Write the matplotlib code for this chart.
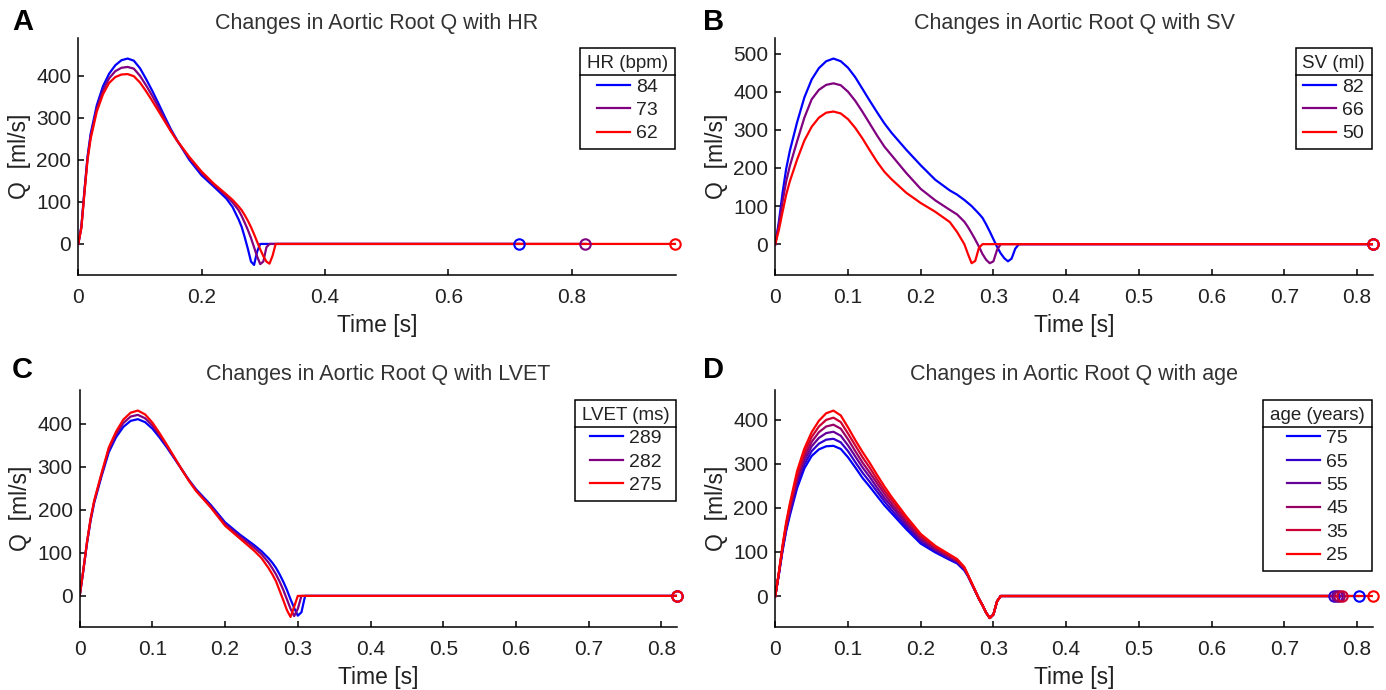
import matplotlib
matplotlib.use("Agg")
import matplotlib.pyplot as plt
from matplotlib.lines import Line2D
from matplotlib.ticker import FuncFormatter

plt.rcParams["font.family"] = ["Liberation Sans", "DejaVu Sans"]

# time grid (s) for the ejection part, shared by panels A, C, D
t_main = [0, .005, .01, .015, .02, .03, .04, .05, .06, .07, .08, .09, .10, .11, .12, .13,
          .14, .15, .16, .18, .20, .22, .24, .25, .26, .265, .27, .275, .28, .285, .29,
          .295, .30, .305, .31, .315, .32]
# panel B runs a little longer
t_sv = t_main + [.325, .33, .335]

# A: heart rate
hr_labels = ["84", "73", "62"]
hr_periods = [0.714, 0.822, 0.968]
q_hr84 = [0, 42, 128, 208, 262, 330, 375, 405, 425, 437, 441, 436, 418, 392, 364, 334, 303, 273,
          247, 200, 163, 136, 108, 88, 58, 40, 15, -12, -42, -50, -18, 0, 0, 0, 0, 0, 0]
q_hr73 = [0, 40, 125, 204, 256, 322, 365, 394, 411, 419, 421, 417, 400, 377, 352, 325, 297, 270,
          246, 204, 168, 140, 114, 99, 80, 66, 50, 33, 14, -8, -30, -48, -42, -8, 0, 0, 0]
q_hr62 = [0, 38, 122, 200, 250, 315, 356, 383, 397, 403, 404, 399, 384, 363, 340, 316, 292, 268,
          246, 207, 172, 143, 118, 105, 89, 80, 68, 55, 40, 23, 5, -13, -29, -42, -47, -28, 0]

# B: stroke volume
sv_labels = ["82", "66", "50"]
sv_periods = [0.822, 0.822, 0.822]
q_sv82 = [0, 60, 135, 198, 245, 320, 385, 432, 462, 480, 487, 480, 463, 438, 407, 376, 346, 317,
          292, 248, 207, 169, 141, 130, 116, 108, 100, 90, 80, 69, 52, 33, 13, -7, -24, -37, -45,
          -38, -12, 0]
q_sv66 = [0, 52, 112, 165, 205, 270, 332, 380, 405, 418, 422, 417, 400, 376, 347, 316, 285, 256,
          233, 187, 145, 115, 90, 78, 59, 45, 29, 12, -6, -26, -41, -50, -45, -15, 0, 0, 0, 0, 0, 0]
q_sv50 = [0, 38, 85, 130, 165, 222, 272, 308, 332, 345, 348, 343, 328, 305, 277, 246, 216, 190,
          170, 135, 108, 85, 58, 32, 0, -26, -50, -44, -10, 0, 0, 0, 0, 0, 0, 0, 0, 0, 0, 0]

# C: LVET
lvet_labels = ["289", "282", "275"]
lvet_periods = [0.822, 0.822, 0.822]
q_lvet289 = [0, 59, 122, 175, 217, 278, 334, 369, 393, 407, 411, 404, 389, 368, 345, 320, 295, 270,
             248, 212, 171, 143, 118, 104, 87, 77, 65, 50, 33, 14, -8, -28, -46, -38, 0, 0, 0]
q_lvet282 = [0, 60, 124, 178, 220, 282, 340, 376, 402, 417, 421, 413, 396, 373, 348, 322, 295, 269,
             246, 209, 167, 139, 112, 97, 77, 64, 50, 33, 14, -8, -30, -47, -30, 0, 0, 0, 0]
q_lvet275 = [0, 60, 125, 180, 222, 285, 345, 382, 410, 426, 431, 422, 403, 378, 351, 323, 295, 268,
             244, 206, 163, 134, 105, 88, 64, 50, 34, 12, -10, -33, -49, -25, 0, 0, 0, 0, 0]

# D: age
age_labels = ["75", "65", "55", "45", "35", "25"]
age_periods = [0.803, 0.768, 0.772, 0.776, 0.780, 0.822]
q_age75 = [0, 50, 103, 148, 183, 245, 290, 318, 333, 340, 341, 334, 315, 292, 268, 248, 227, 206,
           188, 152, 119, 99, 82, 74, 58, 45, 28, 11, -6, -21, -38, -50, -42, -12, 0, 0, 0]
q_age65 = [0, 51, 105, 152, 188, 253, 299, 329, 346, 355, 357, 349, 329, 304, 280, 259, 237, 215,
           195, 158, 123, 102, 84, 76, 60, 46, 28, 11, -6, -21, -38, -50, -42, -12, 0, 0, 0]
q_age55 = [0, 52, 108, 156, 194, 261, 308, 340, 359, 370, 373, 364, 342, 317, 292, 270, 246, 223,
           203, 164, 128, 105, 87, 78, 61, 46, 29, 11, -6, -21, -38, -50, -42, -12, 0, 0, 0]
q_age45 = [0, 53, 110, 160, 199, 268, 317, 350, 372, 385, 389, 380, 356, 329, 303, 280, 256, 232,
           210, 169, 132, 108, 89, 80, 63, 47, 29, 12, -6, -21, -38, -50, -42, -12, 0, 0, 0]
q_age35 = [0, 54, 113, 164, 205, 276, 326, 361, 385, 400, 405, 395, 369, 342, 315, 291, 265, 240,
           218, 175, 137, 111, 92, 82, 64, 47, 30, 12, -6, -21, -38, -50, -42, -12, 0, 0, 0]
q_age25 = [0, 55, 115, 168, 210, 284, 335, 372, 398, 415, 421, 410, 383, 354, 327, 302, 275, 249,
           225, 181, 141, 114, 94, 84, 66, 48, 30, 12, -6, -21, -38, -50, -42, -12, 0, 0, 0]

three_cols = [(0, 0, 1), (0.5, 0, 0.5), (1, 0, 0)]
six_cols = [(k / 5, 0, 1 - k / 5) for k in range(6)]

W, H = 1386, 690
fig = plt.figure(figsize=(W / 100, H / 100), dpi=100)
TXT = "#222222"
legends = []


def panel(rect, letter, letter_xy, t, curves, labels, periods, colors, title, leg_title,
          xmax, xticks, ylim, yticks):
    ax = fig.add_axes(rect)
    handles = []
    for q, p, c in zip(curves, periods, colors):
        ln, = ax.plot(list(t) + [p], list(q) + [0], color=c, lw=1.6, solid_joinstyle="round")
        handles.append(ln)
    for p, c in zip(periods, colors):
        ax.plot([p], [0], "o", mfc="none", mec=c, ms=7.5, mew=1.5, clip_on=False, zorder=5)

    ax.set_xlim(0, xmax)
    ax.set_ylim(*ylim)
    ax.set_xticks(xticks)
    ax.set_yticks(yticks)
    ax.xaxis.set_major_formatter(FuncFormatter(lambda v, pos: "%g" % v))
    for s in ["top", "right"]:
        ax.spines[s].set_visible(False)
    for s in ["left", "bottom"]:
        ax.spines[s].set_linewidth(1.1)
    ax.tick_params(direction="in", length=4.5, width=1.1, labelsize=15, colors="black",
                   labelcolor=TXT)
    ax.tick_params(axis="x", pad=9)
    ax.tick_params(axis="y", pad=5)

    ax.set_title(title, fontsize=15.5, color="#333333", pad=7)
    ax.set_xlabel("Time [s]", fontsize=16.5, color=TXT)
    ax.xaxis.set_label_coords(0.5, -0.165)
    ax.set_ylabel("Q  [ml/s]", fontsize=16.5, color=TXT)
    ax.yaxis.label.set_va("center")
    ax.yaxis.set_label_coords(-0.099, 0.5)

    leg = ax.legend(handles, labels, title=leg_title, loc="upper right",
                    bbox_to_anchor=(0.998, 0.958), fontsize=14, title_fontsize=13.5,
                    frameon=True, fancybox=False, framealpha=1, edgecolor="black",
                    handlelength=1.7, handletextpad=0.3, borderpad=0.35, labelspacing=0.3,
                    borderaxespad=0)
    leg.get_frame().set_linewidth(1.1)
    for txt in leg.get_texts():
        txt.set_color(TXT)
    leg.get_title().set_color(TXT)
    legends.append(leg)

    fig.text(letter_xy[0] / W, 1 - letter_xy[1] / H, letter, fontsize=21, fontweight="bold",
             va="top", ha="left", color="black")
    return ax


panel([78.3 / W, 0.6014, 0.4312, 0.343], "A", (12, 8), t_main,
      [q_hr84, q_hr73, q_hr62], hr_labels, hr_periods, three_cols,
      "Changes in Aortic Root Q with HR", "HR (bpm)",
      0.969, [0, 0.2, 0.4, 0.6, 0.8], (-74, 489), [0, 100, 200, 300, 400])

panel([775.3 / W, 0.6014, 0.4312, 0.343], "B", (703, 8), t_sv,
      [q_sv82, q_sv66, q_sv50], sv_labels, sv_periods, three_cols,
      "Changes in Aortic Root Q with SV", "SV (ml)",
      0.822, [0, .1, .2, .3, .4, .5, .6, .7, .8], (-81, 540), [0, 100, 200, 300, 400, 500])

panel([79.7 / W, 0.0909, 0.4312, 0.344], "C", (12, 356), t_main,
      [q_lvet289, q_lvet282, q_lvet275], lvet_labels, lvet_periods, three_cols,
      "Changes in Aortic Root Q with LVET", "LVET (ms)",
      0.822, [0, .1, .2, .3, .4, .5, .6, .7, .8], (-73, 479), [0, 100, 200, 300, 400])

panel([775.3 / W, 0.0909, 0.4312, 0.344], "D", (703, 356), t_main,
      [q_age75, q_age65, q_age55, q_age45, q_age35, q_age25], age_labels, age_periods, six_cols,
      "Changes in Aortic Root Q with age", "age (years)",
      0.822, [0, .1, .2, .3, .4, .5, .6, .7, .8], (-71, 468), [0, 100, 200, 300, 400])

# line under each legend title, halfway between title and entries
fig.canvas.draw()
r = fig.canvas.get_renderer()
for leg in legends:
    fb = leg.get_frame().get_window_extent(r)
    tb = leg.get_title().get_window_extent(r)
    hb = leg._legend_handle_box.get_window_extent(r)
    y = (tb.y0 + hb.y1) / 2
    fig.add_artist(Line2D([fb.x0 / W, fb.x1 / W], [y / H, y / H], transform=fig.transFigure,
                          color="black", lw=1.1))

fig.savefig("out.png", dpi=100)
